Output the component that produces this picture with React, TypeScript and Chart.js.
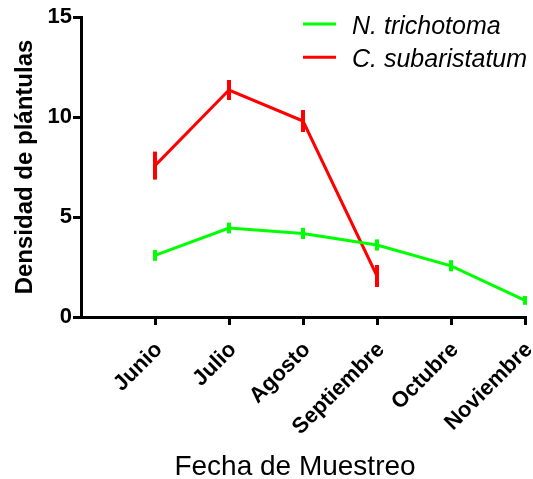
import React, { useEffect, useRef } from 'react';
import { Chart, registerables } from 'chart.js';

Chart.register(...registerables);

const months = ['Junio', 'Julio', 'Agosto', 'Septiembre', 'Octubre', 'Noviembre'];
const nTrichotoma = [3.08, 4.45, 4.18, 3.6, 2.56, 0.83];
const nTrichotomaErr = [0.27, 0.27, 0.28, 0.28, 0.28, 0.22];
const cSubaristatum = [7.57, 11.35, 9.8, 2.05];
const cSubaristatumErr = [0.7, 0.5, 0.55, 0.55];
const yTicks = [0, 5, 10, 15];
const seriesNames = ['N. trichotoma', 'C. subaristatum'];
const seriesColors = ['#00ff00', '#ff0000'];
const xTitle = 'Fecha de Muestreo';
const yTitle = 'Densidad de plántulas';

const FONT = "'Liberation Sans', Arial, sans-serif";

const errorBarPlugin = {
  id: 'errorBars',
  afterDatasetsDraw(chart: any) {
    const { ctx, scales } = chart;
    const x = scales.x;
    const y = scales.y;
    chart.data.datasets.forEach((ds: any) => {
      const errs: number[] = ds.errors || [];
      ctx.save();
      ctx.strokeStyle = ds.borderColor;
      ctx.lineWidth = 4;
      ctx.lineCap = 'butt';
      ds.data.forEach((p: any, j: number) => {
        const px = x.getPixelForValue(p.x);
        ctx.beginPath();
        ctx.moveTo(px, y.getPixelForValue(p.y + errs[j]));
        ctx.lineTo(px, y.getPixelForValue(p.y - errs[j]));
        ctx.stroke();
      });
      ctx.restore();
    });
  },
};

const legendPlugin = {
  id: 'customLegend',
  afterDraw(chart: any) {
    const { ctx } = chart;
    ctx.save();
    chart.data.datasets.forEach((ds: any, i: number) => {
      const yLine = 24 + i * 33.3;
      ctx.strokeStyle = ds.borderColor;
      ctx.lineWidth = 3;
      ctx.beginPath();
      ctx.moveTo(303, yLine);
      ctx.lineTo(336, yLine);
      ctx.stroke();
      ctx.fillStyle = '#000';
      ctx.font = `italic 25px ${FONT}`;
      ctx.textAlign = 'left';
      ctx.textBaseline = 'alphabetic';
      ctx.fillText(ds.label, 352, yLine + 9.5);
    });
    ctx.restore();
  },
};

const xTitlePlugin = {
  id: 'xTitle',
  afterDraw(chart: any) {
    const { ctx } = chart;
    ctx.save();
    ctx.fillStyle = '#000';
    ctx.font = `28px ${FONT}`;
    ctx.textAlign = 'center';
    ctx.textBaseline = 'alphabetic';
    ctx.fillText(xTitle, 295, 475);
    ctx.restore();
  },
};

export default function App() {
  const canvasRef = useRef<HTMLCanvasElement | null>(null);

  useEffect(() => {
    if (!canvasRef.current) return;
    const chart = new Chart(canvasRef.current, {
      type: 'line',
      data: {
        datasets: [
          {
            label: seriesNames[0],
            data: nTrichotoma.map((v, i) => ({ x: i + 1, y: v })),
            errors: nTrichotomaErr,
            borderColor: seriesColors[0],
            backgroundColor: seriesColors[0],
            borderWidth: 3,
            pointRadius: 0,
            fill: false,
            clip: false,
          } as any,
          {
            label: seriesNames[1],
            data: cSubaristatum.map((v, i) => ({ x: i + 1, y: v })),
            errors: cSubaristatumErr,
            borderColor: seriesColors[1],
            backgroundColor: seriesColors[1],
            borderWidth: 3,
            pointRadius: 0,
            fill: false,
            clip: false,
          } as any,
        ],
      },
      options: {
        animation: false,
        responsive: false,
        layout: { padding: { top: 17, right: 8, left: 0, bottom: 0 } },
        plugins: {
          legend: { display: false },
          tooltip: { enabled: false },
        },
        scales: {
          x: {
            type: 'linear',
            min: 0,
            max: months.length,
            afterBuildTicks: (scale: any) => {
              scale.ticks = months.map((_, i) => ({ value: i + 1 }));
            },
            afterFit: (scale: any) => {
              scale.height = 162;
              scale.paddingLeft = 0;
              scale.paddingRight = 0;
            },
            grid: {
              display: true,
              drawOnChartArea: false,
              drawTicks: true,
              tickLength: 8,
              color: '#000',
              lineWidth: 3,
            },
            border: { display: true, color: '#000', width: 3 },
            ticks: {
              autoSkip: false,
              minRotation: 45,
              maxRotation: 45,
              padding: 12,
              labelOffset: 4,
              color: '#000',
              font: { family: FONT, size: 22, weight: 'bold' },
              callback: (v: any) => months[Number(v) - 1] ?? '',
            },
          },
          y: {
            type: 'linear',
            min: 0,
            max: 15,
            afterBuildTicks: (scale: any) => {
              scale.ticks = yTicks.map((v) => ({ value: v }));
            },
            afterFit: (scale: any) => {
              scale.width = 81;
              scale.paddingTop = 0;
              scale.paddingBottom = 0;
            },
            grid: {
              display: true,
              drawOnChartArea: false,
              drawTicks: true,
              tickLength: 8,
              color: '#000',
              lineWidth: 3,
            },
            border: { display: true, color: '#000', width: 3 },
            ticks: {
              padding: 1,
              color: '#000',
              font: { family: FONT, size: 22, weight: 'bold' },
            },
            title: {
              display: true,
              text: yTitle,
              color: '#000',
              font: { family: FONT, size: 24, weight: 'bold' },
              padding: { top: 11, bottom: 0 },
            },
          },
        },
      } as any,
      plugins: [errorBarPlugin, legendPlugin, xTitlePlugin],
    });
    return () => chart.destroy();
  }, []);

  return (
    <div style={{ position: 'absolute', left: 0, top: 0, width: 533, height: 479, background: '#fff' }}>
      <canvas ref={canvasRef} width={533} height={479} style={{ display: 'block' }} />
    </div>
  );
}
